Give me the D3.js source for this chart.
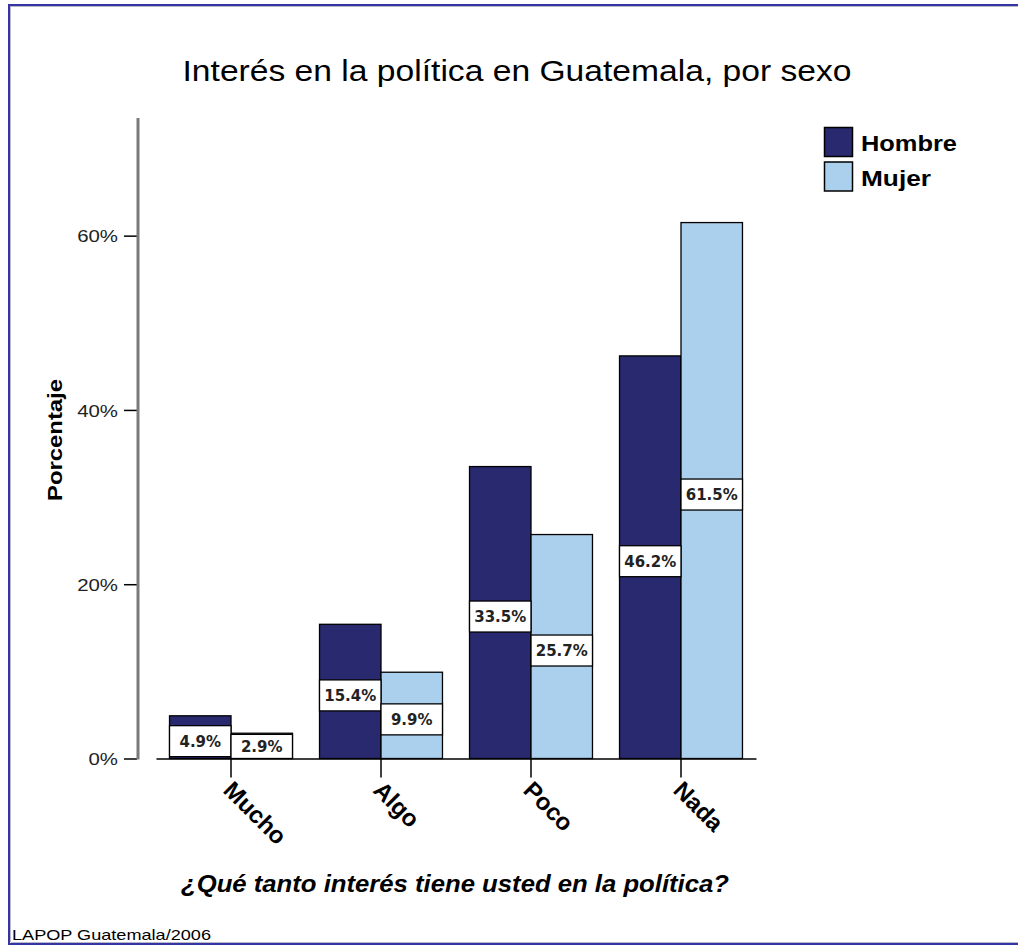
<!DOCTYPE html>
<html><head><meta charset="utf-8">
<script src="https://cdn.jsdelivr.net/npm/d3@7"></script>
<style>body{margin:0;background:#fff}svg{display:block}</style>
</head><body>
<svg id="c" width="1018" height="945"></svg>
<script>
const categories = ["Mucho", "Algo", "Poco", "Nada"];
const series = ["Hombre", "Mujer"];
const hombre = [4.9, 15.4, 33.5, 46.2];
const mujer = [2.9, 9.9, 25.7, 61.5];
const yTickValues = [0, 20, 40, 60];
const titleText = "Interés en la política en Guatemala, por sexo";
const yTitle = "Porcentaje";
const xTitle = "¿Qué tanto interés tiene usted en la política?";
const footer = "LAPOP Guatemala/2006";
const colors = ["#29296f", "#abd0ee"];

const svg = d3.select("#c");
const F = "'Liberation Sans', Arial, sans-serif";
function stretch(sel, w) { sel.attr("textLength", w).attr("lengthAdjust", "spacingAndGlyphs"); return sel; }

// frame
svg.append("line").attr("x1", 8).attr("x2", 1018).attr("y1", 5).attr("y2", 5).attr("stroke", "#3434a4").attr("stroke-width", 2);
svg.append("line").attr("x1", 11).attr("x2", 1018).attr("y1", 6.5).attr("y2", 6.5).attr("stroke", "#b8b8c8").attr("stroke-width", 1);
svg.append("line").attr("x1", 9).attr("x2", 9).attr("y1", 4).attr("y2", 945).attr("stroke", "#3434a4").attr("stroke-width", 2);
svg.append("line").attr("x1", 10.5).attr("x2", 10.5).attr("y1", 6).attr("y2", 942).attr("stroke", "#b8b8c8").attr("stroke-width", 1);
svg.append("line").attr("x1", 8).attr("x2", 1018).attr("y1", 944).attr("y2", 944).attr("stroke", "#3434a4").attr("stroke-width", 2);
svg.append("line").attr("x1", 11).attr("x2", 1018).attr("y1", 942.5).attr("y2", 942.5).attr("stroke", "#b8b8c8").attr("stroke-width", 1);

// scales
const y = d3.scaleLinear().domain([0, 73.5]).range([758.5, 118]);
const x0 = d3.scaleBand().domain(categories).range([156, 756]).padding(0);
const x1 = d3.scaleBand().domain(series).range([0, x0.bandwidth()]).paddingInner(0).paddingOuter(0.22);

const data = [];
categories.forEach((c, i) => {
  data.push({cat: c, s: series[0], v: hombre[i]});
  data.push({cat: c, s: series[1], v: mujer[i]});
});

// title
stretch(svg.append("text").attr("x", 517).attr("y", 81).attr("text-anchor", "middle")
  .attr("font-family", F).attr("font-size", 30).attr("fill", "#000").text(titleText), 669);

// y axis
const yAxis = svg.append("g").attr("transform", "translate(137,0)")
  .call(d3.axisLeft(y).tickValues(yTickValues).tickFormat(d => d + "%").tickSize(13).tickPadding(6));
yAxis.select(".domain").remove();
yAxis.selectAll(".tick line").attr("stroke", "#000").attr("stroke-width", 1.5);
yAxis.selectAll(".tick text").attr("font-family", F).attr("font-size", 17).attr("fill", "#222").attr("dy", "0.36em")
  .each(function () { const t = d3.select(this); const w = this.getComputedTextLength(); stretch(t, w * 1.2); });
svg.append("line").attr("x1", 138).attr("x2", 138).attr("y1", 118).attr("y2", 759.5).attr("stroke", "#7a7a7a").attr("stroke-width", 3);

stretch(svg.append("text").attr("transform", "translate(62,440) rotate(-90)").attr("text-anchor", "middle")
  .attr("font-family", F).attr("font-weight", "bold").attr("font-size", 20).text(yTitle), 122);

// bars
const g = svg.append("g");
g.selectAll("rect.bar").data(data).join("rect").attr("class", "bar")
  .attr("x", d => x0(d.cat) + x1(d.s)).attr("width", x1.bandwidth())
  .attr("y", d => y(d.v)).attr("height", d => y(0) - y(d.v))
  .attr("fill", d => colors[series.indexOf(d.s)]).attr("stroke", "#000").attr("stroke-width", 1.3);

// labels
const lab = g.selectAll("g.lab").data(data).join("g").attr("class", "lab");
lab.each(function (d) {
  const gx = x0(d.cat) + x1(d.s), w = x1.bandwidth();
  const mid = (y(d.v) + y(0)) / 2 + 4;
  const top = Math.max(y(d.v), mid - 15.5), bot = Math.min(y(0), mid + 15.5);
  const s = d3.select(this);
  s.append("rect").attr("x", gx).attr("y", top).attr("width", w).attr("height", bot - top)
    .attr("fill", "#fff").attr("stroke", "#000").attr("stroke-width", 1.3);
  s.append("text").attr("x", gx + w / 2).attr("y", (top + bot) / 2 + 5.5).attr("text-anchor", "middle")
    .attr("font-family", "'DejaVu Sans', Verdana, sans-serif").attr("font-weight", "bold").attr("font-size", 15)
    .attr("fill", "#222").text(d.v.toFixed(1) + "%");
});

// x axis
const xAxis = svg.append("g").attr("transform", "translate(0,758.5)")
  .call(d3.axisBottom(x0).tickSize(19).tickSizeOuter(0));
xAxis.select(".domain").attr("stroke", "#000").attr("stroke-width", 1.5);
xAxis.selectAll(".tick line").attr("stroke", "#000").attr("stroke-width", 1.5);
xAxis.selectAll(".tick text").attr("x", 0).attr("y", 0).attr("dy", 0).attr("text-anchor", "start")
  .attr("transform", "translate(-9,33) rotate(45)")
  .attr("font-family", F).attr("font-size", 24).attr("font-weight", "bold").attr("fill", "#000");

stretch(svg.append("text").attr("x", 455).attr("y", 892).attr("text-anchor", "middle")
  .attr("font-family", F).attr("font-weight", "bold").attr("font-style", "italic").attr("font-size", 24).text(xTitle), 548);

// legend
const leg = svg.append("g");
series.forEach((s, i) => {
  leg.append("rect").attr("x", 824.5).attr("y", 127.5 + i * 34.5).attr("width", 28).attr("height", 29)
    .attr("fill", colors[i]).attr("stroke", "#000").attr("stroke-width", 1.5);
  stretch(leg.append("text").attr("x", 861).attr("y", 151 + i * 35).attr("font-family", F).attr("font-weight", "bold")
    .attr("font-size", 22).text(s), i === 0 ? 96 : 70);
});

// footer
stretch(svg.append("text").attr("x", 12).attr("y", 940).attr("font-family", F).attr("font-size", 15).text(footer), 199);
</script>
</body></html>
